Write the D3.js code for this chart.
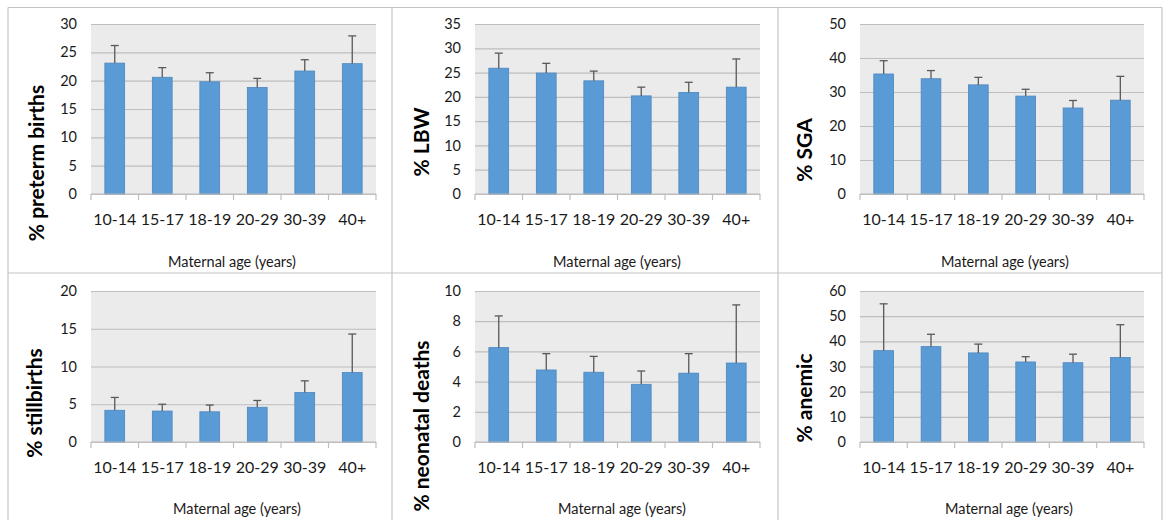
<!DOCTYPE html>
<html>
<head>
<meta charset="utf-8">
<script src="https://cdn.jsdelivr.net/npm/d3@7"></script>
<style>
  html, body { margin: 0; padding: 0; background: #fff; }
  svg { display: block; font-family: Lato, "Open Sans", sans-serif; }
</style>
</head>
<body>
<svg id="chart" width="1167" height="520"></svg>
<script>
'use strict';

// ── Data ──────────────────────────────────────────────────
const ageGroups = ['10-14', '15-17', '18-19', '20-29', '30-39', '40+'];

const pretermPct   = [23.1, 20.6, 19.8, 18.8, 21.7, 23.0];
const pretermUpper = [26.2, 22.3, 21.4, 20.4, 23.7, 27.9];

const lbwPct   = [25.9, 24.9, 23.3, 20.2, 20.9, 22.0];
const lbwUpper = [29.0, 26.9, 25.3, 22.0, 23.0, 27.8];

const sgaPct   = [35.3, 33.9, 32.1, 28.8, 25.3, 27.6];
const sgaUpper = [39.2, 36.3, 34.3, 30.8, 27.5, 34.6];

const stillPct   = [4.2, 4.1, 4.0, 4.6, 6.55, 9.2];
const stillUpper = [5.9, 5.0, 4.9, 5.5, 8.1, 14.3];

const neonatalPct   = [6.25, 4.77, 4.62, 3.82, 4.56, 5.23];
const neonatalUpper = [8.35, 5.85, 5.67, 4.70, 5.85, 9.08];

const anemicPct   = [36.3, 37.9, 35.4, 31.8, 31.5, 33.6];
const anemicUpper = [54.9, 42.8, 38.9, 33.9, 34.9, 46.6];

const yTitles = ['% preterm births', '% LBW', '% SGA', '% stillbirths', '% neonatal deaths', '% anemic'];
const yMaxes  = [30, 35, 50, 20, 10, 60];
const ySteps  = [5, 5, 10, 5, 2, 10];
const xTitle  = 'Maternal age (years)';

// ── Layout (pixel boxes for each panel) ───────────────────
const panels = [
  { values: pretermPct,  upper: pretermUpper,  x0: 91,  x1: 376,  y0: 24,  y1: 194, tx: 35,  ty: 163, xtx: 232,  xty: 267 },
  { values: lbwPct,      upper: lbwUpper,      x0: 475, x1: 760,  y0: 24,  y1: 194, tx: 420, ty: 142, xtx: 617,  xty: 267 },
  { values: sgaPct,      upper: sgaUpper,      x0: 860, x1: 1144, y0: 24,  y1: 194, tx: 803, ty: 150, xtx: 1005, xty: 267 },
  { values: stillPct,    upper: stillUpper,    x0: 91,  x1: 376,  y0: 291, y1: 442, tx: 33,  ty: 403, xtx: 237,  xty: 514 },
  { values: neonatalPct, upper: neonatalUpper, x0: 475, x1: 760,  y0: 291, y1: 442, tx: 420, ty: 426, xtx: 622,  xty: 514 },
  { values: anemicPct,   upper: anemicUpper,   x0: 860, x1: 1144, y0: 291, y1: 442, tx: 803, ty: 398, xtx: 1009, xty: 514 }
];

const BAR_FILL   = '#5b9bd5';
const BAR_STROKE = '#4a86bf';
const PLOT_BG    = '#ebebeb';
const GRID       = '#bebebe';
const ERR        = '#595959';
const FRAME      = '#c3c3c3';
const TEXT       = '#1a1a1a';

const svg = d3.select('#chart');

// ── Panel frame (the table-like grid) ─────────────────────
const frame = svg.append('g').attr('stroke', FRAME).attr('stroke-width', 1.2).attr('fill', 'none');
frame.append('line').attr('x1', 8).attr('x2', 1162).attr('y1', 7.5).attr('y2', 7.5);
frame.append('line').attr('x1', 8).attr('x2', 1162).attr('y1', 273).attr('y2', 273);
[8, 392, 778, 1162].forEach(x => {
  frame.append('line').attr('x1', x).attr('x2', x).attr('y1', 7.5).attr('y2', 520);
});

// ── Draw each panel ───────────────────────────────────────
panels.forEach((p, i) => {
  const g = svg.append('g');
  const iW = p.x1 - p.x0;

  const x = d3.scaleBand().domain(ageGroups).range([p.x0, p.x1]).paddingInner(0).paddingOuter(0);
  const y = d3.scaleLinear().domain([0, yMaxes[i]]).range([p.y1, p.y0]);
  const barW = x.bandwidth() / 2.4;

  // plot area background
  g.append('rect')
    .attr('x', p.x0).attr('y', p.y0)
    .attr('width', iW).attr('height', p.y1 - p.y0)
    .attr('fill', PLOT_BG);

  // y axis: labels + grid lines
  const yAxis = d3.axisLeft(y)
    .tickValues(d3.range(0, yMaxes[i] + 0.001, ySteps[i]))
    .tickSize(-iW)
    .tickPadding(14)
    .tickFormat(d3.format('d'));

  const ya = g.append('g').attr('transform', `translate(${p.x0},0)`).call(yAxis);
  ya.select('.domain').remove();
  ya.selectAll('.tick line').attr('stroke', GRID).attr('stroke-width', 1.2);
  ya.selectAll('.tick text')
    .attr('fill', TEXT)
    .attr('font-size', 14.5)
    .attr('font-family', 'Lato, sans-serif');

  // bars
  g.selectAll('.bar')
    .data(p.values)
    .join('rect')
    .attr('class', 'bar')
    .attr('x', (d, j) => x(ageGroups[j]) + (x.bandwidth() - barW) / 2)
    .attr('y', d => y(d))
    .attr('width', barW)
    .attr('height', d => y(0) - y(d))
    .attr('fill', BAR_FILL)
    .attr('stroke', BAR_STROKE)
    .attr('stroke-width', 0.8);

  // error bars (upper only)
  p.upper.forEach((u, j) => {
    const cx = x(ageGroups[j]) + x.bandwidth() / 2;
    g.append('line')
      .attr('x1', cx).attr('x2', cx)
      .attr('y1', y(p.values[j])).attr('y2', y(u))
      .attr('stroke', ERR).attr('stroke-width', 1.3);
    g.append('line')
      .attr('x1', cx - 4).attr('x2', cx + 4)
      .attr('y1', y(u)).attr('y2', y(u))
      .attr('stroke', ERR).attr('stroke-width', 1.3);
  });

  // x axis line + boundary ticks
  g.append('line')
    .attr('x1', p.x0).attr('x2', p.x1)
    .attr('y1', y(0)).attr('y2', y(0))
    .attr('stroke', GRID).attr('stroke-width', 1.2);

  const bounds = ageGroups.map(a => x(a)).concat([x(ageGroups[ageGroups.length - 1]) + x.step()]);
  bounds.forEach(bx => {
    g.append('line')
      .attr('x1', bx).attr('x2', bx)
      .attr('y1', y(0)).attr('y2', y(0) + 6)
      .attr('stroke', GRID).attr('stroke-width', 1.2);
  });

  // category labels
  ageGroups.forEach(a => {
    g.append('text')
      .attr('x', x(a) + x.bandwidth() / 2)
      .attr('y', y(0) + 31)
      .attr('text-anchor', 'middle')
      .attr('font-size', 16)
      .attr('fill', TEXT)
      .text(a);
  });

  // x axis title
  g.append('text')
    .attr('x', p.xtx)
    .attr('y', p.xty)
    .attr('text-anchor', 'middle')
    .attr('font-size', 14.5)
    .attr('fill', TEXT)
    .text(xTitle);

  // y axis title (rotated)
  g.append('text')
    .attr('transform', `translate(${p.tx},${p.ty}) rotate(-90)`)
    .attr('text-anchor', 'middle')
    .attr('dominant-baseline', 'central')
    .attr('font-size', 21)
    .attr('font-weight', 700)
    .attr('fill', '#000')
    .text(yTitles[i]);
});
</script>
</body>
</html>
